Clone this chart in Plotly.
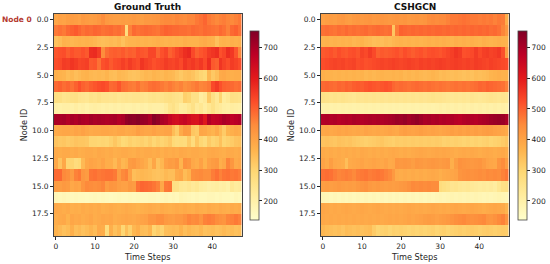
import plotly.graph_objects as go

node_ids = list(range(20))
time_steps = list(range(48))

truth_values = [
 [395,405,400,410,415,410,405,420,415,410,415,425,445,420,415,410,410,415,410,415,420,415,410,420,420,425,430,445,450,450,445,455,450,445,455,455,470,480,495,470,460,450,460,465,455,450,460,470],
 [470,480,470,490,500,510,495,480,490,485,495,490,480,485,490,480,485,470,275,460,490,480,485,490,485,480,475,490,500,495,490,490,485,485,480,490,485,480,490,485,480,475,490,480,460,490,500,480],
 [340,350,370,365,360,365,370,365,370,365,360,350,345,350,355,350,360,340,360,365,365,370,365,370,365,370,375,370,365,370,365,370,365,375,370,370,370,380,385,375,370,340,365,370,365,375,370,375],
 [515,520,525,505,520,510,510,520,510,570,575,550,445,485,500,505,500,510,495,505,500,520,515,510,535,535,495,520,535,500,515,535,550,570,580,530,500,515,525,550,560,570,520,535,570,555,515,455],
 [525,530,550,545,560,550,535,540,545,510,515,480,520,530,510,525,530,545,530,550,535,525,560,545,535,520,530,535,550,540,535,545,530,560,545,555,540,555,530,570,510,500,560,540,525,550,540,525],
 [375,370,365,350,360,345,355,365,370,360,355,360,355,365,350,345,360,355,350,340,335,340,350,360,355,365,360,355,365,360,355,340,325,340,345,335,315,300,290,360,325,345,385,390,380,375,380,380],
 [490,500,485,495,480,500,520,500,490,505,515,525,530,520,490,495,515,485,480,470,465,480,460,465,480,485,480,470,460,470,460,450,460,440,450,460,470,455,460,470,530,550,520,500,495,490,480,485],
 [270,265,250,255,260,265,250,245,240,255,250,260,250,250,245,250,240,245,250,245,250,250,245,240,250,255,250,255,265,270,260,255,250,310,300,260,260,215,230,320,265,235,300,220,235,265,260,255],
 [205,200,205,205,200,210,200,205,195,205,210,205,200,205,200,205,200,205,200,200,205,200,205,200,210,205,205,205,220,250,260,240,215,220,240,260,225,240,215,240,260,235,225,210,205,215,210,205],
 [700,700,705,690,705,695,710,700,695,710,700,705,700,695,700,705,690,700,730,740,735,745,725,720,700,745,730,700,690,660,640,635,650,660,640,625,620,650,610,690,665,670,680,700,690,670,680,690],
 [385,390,395,395,390,400,395,405,395,385,390,390,395,395,390,385,395,395,385,390,395,410,400,395,395,405,395,395,400,400,350,320,385,415,410,330,320,395,390,375,365,385,355,320,365,375,385,380],
 [335,325,330,320,325,335,330,330,325,300,300,295,300,295,310,330,310,290,295,310,300,305,310,300,315,295,310,300,310,325,290,280,285,280,320,280,330,295,280,320,300,310,340,300,310,320,335,340],
 [385,380,385,385,380,385,375,380,385,385,380,390,385,380,385,375,380,385,385,380,375,385,380,385,385,380,385,375,385,380,385,380,390,385,380,385,385,380,375,385,390,385,380,375,385,385,380,385],
 [390,335,390,300,300,280,290,355,390,400,395,385,400,380,380,355,390,360,370,415,420,405,395,380,350,395,340,360,405,415,410,425,365,435,425,390,380,405,370,405,415,420,375,390,455,425,385,395],
 [490,490,450,440,415,460,470,425,415,475,480,470,475,480,480,470,415,450,460,405,345,355,360,355,350,340,335,340,355,345,345,385,395,350,370,440,445,450,440,440,465,480,460,475,480,470,475,465],
 [415,410,420,415,390,400,395,430,450,445,440,445,455,415,430,425,410,405,405,420,415,480,495,490,485,475,460,390,470,475,265,260,240,235,245,230,240,220,215,205,210,215,205,210,200,235,220,225],
 [175,170,175,170,165,170,165,165,160,165,170,165,170,165,160,165,170,165,165,170,165,170,165,165,170,170,165,170,175,170,175,170,185,180,175,170,175,170,170,175,175,170,175,170,170,165,175,170],
 [390,385,380,385,375,380,375,385,380,385,380,385,375,380,385,380,375,380,385,380,375,370,375,380,385,380,375,385,380,375,380,385,380,385,380,375,385,380,375,385,380,375,385,380,375,385,380,385],
 [380,385,390,370,395,385,390,380,385,395,380,385,395,390,395,380,385,390,395,390,385,395,400,405,425,425,440,440,420,415,410,420,420,435,455,445,450,430,460,465,460,445,435,430,455,460,470,460],
 [370,355,340,350,375,345,355,340,350,365,350,385,380,280,375,340,360,295,345,310,360,375,350,345,365,300,320,305,345,350,355,350,370,345,360,350,345,360,340,345,350,340,345,355,345,350,340,345],
]

pred_values = [
 [405,410,415,410,420,425,415,410,420,425,420,425,430,420,425,430,425,420,425,430,425,430,420,425,430,425,430,445,450,445,450,450,460,470,470,475,480,475,470,470,465,470,465,470,460,470,465,380],
 [480,485,480,475,485,480,490,480,485,480,485,490,480,485,490,485,480,485,330,465,500,495,490,495,490,495,490,495,490,495,495,490,495,490,495,490,495,490,495,490,495,490,495,485,490,480,455,420],
 [365,370,365,370,365,370,365,370,360,365,370,360,355,345,350,345,355,350,360,365,370,365,370,365,370,365,370,375,370,375,370,375,370,365,375,370,375,370,375,370,365,375,370,365,370,375,370,365],
 [510,515,520,510,525,515,510,520,525,515,540,530,550,530,500,510,505,510,515,520,510,525,515,505,515,520,510,520,525,520,515,525,535,545,560,550,520,525,530,550,530,545,550,540,545,555,520,410],
 [525,530,535,540,535,540,530,535,540,525,530,520,525,530,535,540,535,540,545,540,535,540,545,540,535,545,540,545,540,545,550,545,540,545,550,545,540,545,540,550,545,540,535,545,540,535,530,525],
 [375,370,370,365,370,365,370,365,370,365,370,360,365,360,365,370,365,365,370,365,370,360,365,360,365,360,355,360,365,360,350,355,350,345,350,345,340,345,340,350,345,350,355,365,370,375,370,370],
 [490,495,490,485,495,490,500,495,505,510,505,515,520,515,510,515,520,515,495,485,490,485,480,485,490,485,480,485,480,475,480,475,470,475,480,475,480,475,480,485,495,490,500,495,490,485,480,460],
 [260,255,250,255,250,255,250,245,240,250,245,250,245,250,245,250,245,250,245,250,245,250,245,250,245,250,245,250,255,250,250,245,240,235,240,235,240,235,245,240,235,240,245,250,245,240,245,240],
 [195,200,195,200,195,200,195,200,195,200,195,200,195,200,195,200,195,200,195,200,195,200,195,200,195,200,195,200,195,200,205,200,205,200,205,200,205,200,205,200,205,200,205,200,205,200,205,200],
 [690,695,690,695,685,690,695,690,700,695,690,695,700,695,700,695,700,705,710,720,715,725,710,720,730,715,700,705,695,700,690,695,690,695,685,680,690,695,690,685,695,700,705,715,720,725,720,700],
 [390,395,390,395,400,395,400,395,390,395,390,400,395,390,395,390,395,400,395,390,405,410,405,400,405,410,405,400,405,400,395,400,405,410,405,410,405,410,405,410,405,410,415,410,405,400,395,385],
 [335,340,335,330,340,335,330,335,325,320,315,310,315,320,325,330,320,315,310,320,315,320,315,320,315,320,315,320,315,320,315,305,310,305,310,305,300,305,300,305,300,305,310,300,305,310,320,330],
 [385,380,385,380,385,380,385,380,385,380,390,385,380,385,380,385,380,385,390,385,380,385,380,385,390,395,390,385,390,395,390,395,390,385,380,385,390,385,390,385,380,385,390,385,380,385,390,380],
 [400,385,410,390,385,380,345,385,390,395,400,390,395,400,395,390,400,385,390,425,420,425,420,410,425,420,415,420,425,420,415,420,425,375,410,435,430,425,420,425,430,415,400,395,390,430,445,410],
 [480,485,480,465,455,460,465,460,450,465,470,475,465,470,475,470,460,450,420,385,380,385,380,385,380,385,380,385,390,385,375,385,390,395,400,430,435,440,435,440,445,440,450,445,450,445,460,470],
 [410,415,410,415,420,415,410,415,410,420,430,435,420,415,420,415,410,415,410,415,420,425,435,450,445,450,445,450,445,445,280,270,260,245,250,240,235,240,230,225,220,225,220,225,215,240,260,265],
 [180,175,170,175,170,175,170,175,170,175,170,175,170,175,170,175,170,175,170,175,170,175,170,175,170,175,170,175,170,175,180,175,180,185,180,185,180,185,180,185,180,175,180,175,180,185,180,175],
 [395,390,385,390,385,390,395,390,385,390,395,390,385,390,395,390,385,390,385,390,385,390,395,390,385,390,385,390,395,390,385,390,385,390,395,390,385,390,395,390,385,380,385,390,395,390,385,365],
 [390,385,390,385,390,385,390,385,390,385,390,385,390,385,390,385,390,395,390,395,390,395,400,395,400,405,410,415,410,405,410,415,420,430,440,445,450,440,435,440,445,450,430,425,435,450,460,430],
 [360,350,345,340,345,335,350,345,340,345,340,345,350,320,300,305,310,300,310,305,310,305,300,305,300,305,300,305,310,300,305,310,300,305,310,315,310,315,320,315,310,315,320,315,310,315,320,315],
]

tick_y = [0, 2.5, 5, 7.5, 10, 12.5, 15, 17.5]
tick_y_text = ["0.0", "2.5", "5.0", "7.5", "10.0", "12.5", "15.0", "17.5"]
tick_x = [0, 10, 20, 30, 40]
cbar_ticks = [200, 300, 400, 500, 600, 700]
panel_titles = ["Ground Truth", "CSHGCN"]

W, H = 550, 264
INK = "#262626"
FONT = "DejaVu Sans"
scale = [[i / 8, c] for i, c in enumerate(
    ["#ffffcc", "#ffeda0", "#fed976", "#feb24c", "#fd8d3c", "#fc4e2a", "#e31a1c", "#bd0026", "#800026"])]

panels = [(54, 241.5, 250), (321, 508.5, 518)]
top, bottom = 14, 236
cb_top, cb_bottom = 31, 220

fig = go.Figure()
for i, (z, (x0, x1, cbx)) in enumerate(zip([truth_values, pred_values], panels)):
    suffix = "" if i == 0 else "2"
    fig.add_trace(go.Heatmap(
        z=z, x=time_steps, y=node_ids, zmin=138, zmax=754, colorscale=scale,
        xaxis="x" + suffix, yaxis="y" + suffix, zsmooth=False,
        colorbar=dict(
            x=cbx / W, xanchor="left", xpad=0, ypad=0, thickness=9, thicknessmode="pixels",
            y=1 - (cb_top + cb_bottom) / 2 / H, yanchor="middle", len=(cb_bottom - cb_top) / H, lenmode="fraction",
            tickvals=cbar_ticks, ticks="outside", ticklen=3, tickwidth=0.8, tickcolor=INK,
            tickfont=dict(family=FONT, size=7.5, color=INK),
            outlinecolor="#444444", outlinewidth=0.8,
        ),
    ))
    axis_common = dict(ticks="outside", ticklen=3, tickwidth=0.8, tickcolor=INK, showgrid=False, zeroline=False,
                       showline=True, linecolor="#444444", linewidth=0.8, mirror=True,
                       tickfont=dict(family=FONT, size=7.5, color=INK))
    fig.update_layout({
        "xaxis" + suffix: dict(domain=[x0 / W, x1 / W], range=[-0.5, 47.5], tickvals=tick_x,
                               anchor="y" + suffix, title=dict(text="Time Steps", standoff=4, font=dict(family=FONT, size=8.2, color=INK)), **axis_common),
        "yaxis" + suffix: dict(domain=[1 - bottom / H, 1 - top / H], range=[19.5, -0.5], tickvals=tick_y, ticktext=tick_y_text,
                               anchor="x" + suffix, title=dict(text="Node ID", standoff=3, font=dict(family=FONT, size=8.2, color=INK)), **axis_common),
    })
    fig.add_annotation(x=(x0 + x1) / 2 / W, y=1 - 6.5 / H, xref="paper", yref="paper", showarrow=False,
                       xanchor="center", yanchor="middle",
                       text="<b>%s</b>" % panel_titles[i], font=dict(family=FONT, size=9, color="#111111"))

fig.add_annotation(x=17.5 / W, y=1 - 19.5 / H, xref="paper", yref="paper", showarrow=False,
                   xanchor="center", yanchor="middle",
                   text="<b>Node 0</b>", font=dict(family=FONT, size=7.5, color="#b53a30"))

fig.update_layout(width=W, height=H, margin=dict(l=0, r=0, t=0, b=0), paper_bgcolor="white", plot_bgcolor="white",
                  showlegend=False)
fig.write_html("out.html", config={"displayModeBar": False},
               post_script="document.body.style.margin='0';document.documentElement.style.overflow='hidden';")
